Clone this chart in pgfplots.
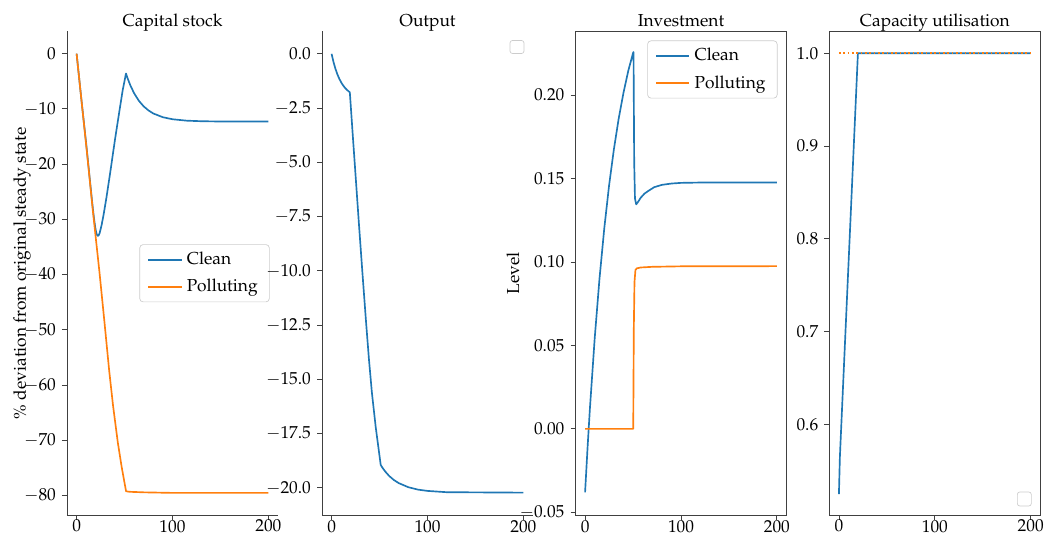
\documentclass[border=0pt]{standalone}
\usepackage[T1]{fontenc}
\usepackage{mathpazo}
\usepackage{pgfplots}
\pgfplotsset{compat=1.18}
\definecolor{tabblue}{HTML}{1F77B4}
\definecolor{taborange}{HTML}{FF7F0E}
\pgfplotsset{
  panel/.style={
    scale only axis, width=126.6pt, height=290.1pt,
    xmin=-10, xmax=210, xtick={0,100,200},
    scaled y ticks=false,
    tick align=outside, tick pos=left,
    major tick length=3pt,
    every tick/.style={black!75, line width=0.5pt},
    axis line style={black!75, line width=0.5pt},
    title style={anchor=base, yshift=-2.8pt},
    xticklabel style={inner sep=0.5pt, yshift=0.6pt},
    legend cell align=left,
    legend image code/.code={\draw[##1, line width=1.2pt] (0pt,0pt) -- (20pt,0pt);},
    legend style={draw=black!20, rounded corners=2pt, fill=white,
      inner xsep=4.5pt, inner ysep=2pt, row sep=2.2pt,
      nodes={inner sep=2.5pt}},
  },
  ln/.style={line width=1pt, line join=round},
}
\begin{document}
\fontsize{10.4}{12.5}\selectfont
\begin{tikzpicture}
\useasboundingbox (0,0) rectangle (627.6pt,321pt);
% Panel 1
\begin{axis}[panel, at={(40.2pt,12pt)}, anchor=south west, axis lines*=left,
  title={Capital stock}, ymin=-83.5, ymax=4, ytick={-80,-70,...,0},
  ylabel={\% deviation from original steady state},
  ylabel style={at={(axis description cs:-0.213,0.5)}, anchor=center},
  legend style={at={(1,0.5)}, anchor=east, xshift=-5pt}]
\addplot[tabblue, ln] coordinates {(0,0)(5,-8.3)(10,-16.3)(13,-21.4)(15,-24.8)(16,-26.5)(17,-28.1)(18,-29.6)(19,-30.9)(20,-32.0)(21,-32.7)(22,-33.0)(23,-32.9)(24,-32.5)(26,-31.1)(28,-29.3)(31,-26.2)(35,-21.6)(40,-15.6)(45,-10.0)(48,-6.7)(51.5,-3.6)(53,-4.38)(56,-5.73)(60,-7.18)(65,-8.56)(70,-9.56)(75,-10.29)(80,-10.84)(90,-11.52)(100,-11.88)(115,-12.14)(130,-12.24)(150,-12.29)(200,-12.3)};
\addlegendentry{Clean}
\addplot[taborange, ln] coordinates {(0,0)(5,-8.3)(11,-18.2)(17,-28.5)(24,-39.8)(29,-48.5)(34,-57.4)(38,-63.7)(43,-70.4)(47,-74.8)(50,-77.7)(51.6,-79.2)(55,-79.3)(70,-79.4)(100,-79.5)(200,-79.5)};
\addlegendentry{Polluting}
\end{axis}
% Panel 2
\begin{axis}[panel, at={(193.2pt,12pt)}, anchor=south west, axis lines*=left,
  title={Output}, ymin=-21.25, ymax=1.03, ytick={-20,-17.5,...,0},
  yticklabel style={/pgf/number format/.cd, fixed, fixed zerofill, precision=1}]
\addplot[tabblue, ln] coordinates {(0,0)(2,-0.377)(4,-0.686)(6,-0.939)(8,-1.145)(10,-1.315)(12,-1.453)(14,-1.567)(16,-1.66)(18,-1.736)(19,-1.77)(20,-2.4)(22,-3.7)(25,-5.6)(28.7,-7.96)(32,-10.0)(36,-12.4)(39,-14.1)(42,-15.6)(46,-17.2)(49,-18.2)(51.2,-18.94)(53,-19.07)(56,-19.25)(60,-19.45)(65,-19.64)(70,-19.78)(80,-19.97)(90,-20.08)(100,-20.14)(120,-20.2)(200,-20.22)};
\draw[black!20, rounded corners=1.5pt, fill=white] ([xshift=-5.4pt,yshift=-5.4pt]axis description cs:1,1) rectangle ++(-8.4pt,-7.8pt);
\end{axis}
% Panel 3
\begin{axis}[panel, at={(345.3pt,12pt)}, anchor=south west,
  title={Investment}, ymin=-0.0516, ymax=0.2381, ytick={-0.05,0,0.05,0.1,0.15,0.2},
  yticklabel style={/pgf/number format/.cd, fixed, fixed zerofill, precision=2},
  ylabel={Level},
  ylabel style={at={(axis description cs:-0.296,0.5)}, anchor=center},
  legend style={at={(1,1)}, anchor=north east, xshift=-5.4pt, yshift=-5.4pt}]
\addplot[tabblue, ln] coordinates {(0,-0.038)(2.5,-0.012)(5,0.012)(10,0.0541)(15,0.0899)(20,0.1201)(25,0.1458)(30,0.1674)(35,0.1858)(40,0.2013)(45,0.2145)(50,0.2252)(50.5,0.2258)(51.2,0.16)(52,0.138)(53.3,0.1345)(55,0.1358)(58,0.1385)(62,0.141)(66,0.1426)(72,0.1448)(80,0.1462)(90,0.147)(100,0.1474)(120,0.1476)(200,0.1476)};
\addlegendentry{Clean}
\addplot[taborange, ln] coordinates {(0,0)(50.2,0)(50.8,0.06)(51.5,0.088)(52.5,0.0952)(54,0.0962)(58,0.0967)(70,0.0971)(100,0.0974)(200,0.0975)};
\addlegendentry{Polluting}
\end{axis}
% Panel 4
\begin{axis}[panel, at={(497.6pt,12pt)}, anchor=south west,
  title={Capacity utilisation}, ymin=0.5025, ymax=1.0235, ytick={0.6,0.7,0.8,0.9,1.0},
  yticklabel style={/pgf/number format/.cd, fixed, fixed zerofill, precision=1}]
\addplot[tabblue, ln] coordinates {(0,0.525)(1,0.565)(19.8,1)(200,1)};
\addplot[taborange, line width=1pt, dash pattern=on 1pt off 1.6pt] coordinates {(0,1)(200,1)};
\draw[black!20, rounded corners=1.5pt, fill=white] ([xshift=-5.4pt,yshift=5.4pt]axis description cs:1,0) rectangle ++(-8.4pt,8.4pt);
\end{axis}
\end{tikzpicture}
\end{document}
